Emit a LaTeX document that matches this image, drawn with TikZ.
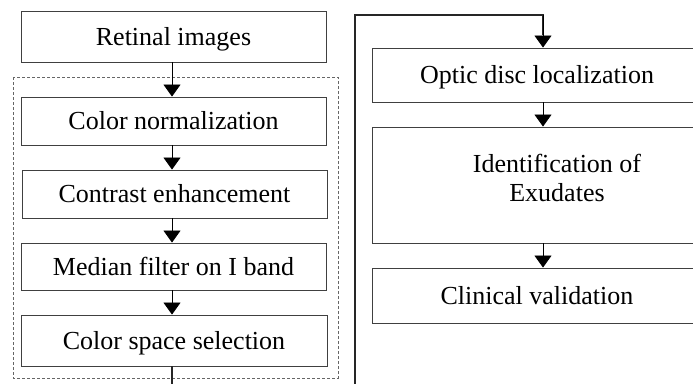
\documentclass[tikz,border=0pt]{standalone}
\usepackage{fontspec}
\setmainfont{Liberation Serif}
\usetikzlibrary{arrows.meta}
\begin{document}
\begin{tikzpicture}[x=1pt,y=-1pt,
  box/.style={draw=black!75,line width=0.9pt,fill=white,inner sep=0pt,text depth=1pt,font=\fontsize{26}{30}\selectfont},
  flow/.style={draw=black,line width=0.8pt,-{Triangle[width=17pt,length=12pt]}},
  thick flow/.style={draw=black!85,line width=1.8pt},
  group/.style={draw=black!60,dashed,line width=0.6pt,dash pattern=on 3pt off 2pt}]
\useasboundingbox (0,0) rectangle (693,383);
\clip (0,0) rectangle (693,383);
% dashed group
\draw[group] (13,77) rectangle (338,378);
% left column
\node[box,minimum width=305pt,minimum height=51pt] (ret) at (173.5,36.5) {Retinal images};
\node[box,minimum width=305pt,minimum height=48pt] (cn) at (173.5,121) {Color normalization};
\node[box,minimum width=305pt,minimum height=48pt] (ce) at (174.5,194) {Contrast enhancement};
\node[box,minimum width=305pt,minimum height=47pt] (mf) at (173.5,266.5) {Median filter on I band};
\node[box,minimum width=306pt,minimum height=51pt] (cs) at (174,340.5) {Color space selection};
% right column
\node[box,minimum width=330pt,minimum height=54pt] (od) at (537,75) {Optic disc localization};
\node[box,minimum width=330pt,minimum height=116pt] (ie) at (537,185) {};
\node[font=\fontsize{26}{29}\selectfont,align=center,inner sep=0pt] (iet) at (557,178) {Identification of\\Exudates};
\node[box,minimum width=330pt,minimum height=55pt] (cv) at (537,295.5) {Clinical validation};
% connectors
\draw[flow] (ret.south -| 172,0) -- (cn.north -| 172,0);
\draw[flow] (cn.south -| 172,0) -- (ce.north -| 172,0);
\draw[flow] (ce.south -| 172,0) -- (mf.north -| 172,0);
\draw[flow] (mf.south -| 172,0) -- (cs.north -| 172,0);
\coordinate (b1) at (172,400);
\coordinate (b2) at (355,400);
\coordinate (t1) at (355,15);
\coordinate (t2) at (543,15);
\draw[thick flow] (cs.south -| 172,0) -- (b1) -- (b2) -- (t1) -- (t2) -- ++(0,20);
\draw[flow] (t2) -- (od.north -| 543,0);
\draw[flow] (od.south -| 543,0) -- (ie.north -| 543,0);
\draw[flow] (ie.south -| 543,0) -- (cv.north -| 543,0);
\end{tikzpicture}
\end{document}
